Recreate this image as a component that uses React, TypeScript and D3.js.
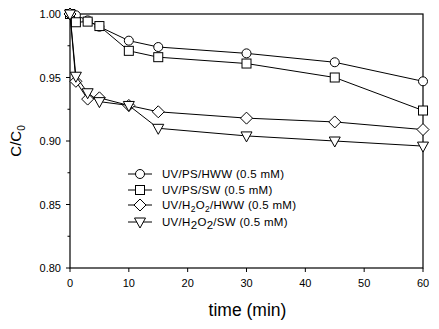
import React from "react";
import * as d3 from "d3";

const times = [0, 1, 3, 5, 10, 15, 30, 45, 60];
const psHWW = [1.0, 0.999, 0.995, 0.99, 0.979, 0.974, 0.969, 0.962, 0.947];
const psSW = [1.0, 0.9935, 0.994, 0.9905, 0.971, 0.966, 0.961, 0.95, 0.924];
const h2o2HWW = [1.0, 0.947, 0.933, 0.934, 0.928, 0.923, 0.918, 0.915, 0.909];
const h2o2SW = [1.0, 0.951, 0.938, 0.931, 0.928, 0.91, 0.904, 0.9, 0.896];
const xTicks = [0, 10, 20, 30, 40, 50, 60];
const yTicks = [0.8, 0.85, 0.9, 0.95, 1.0];
const yMinor = [0.825, 0.875, 0.925, 0.975];

type Sym = "circle" | "square" | "diamond" | "triangle";
const seriesList: { name: React.ReactNode; vals: number[]; sym: Sym }[] = [
  { name: "UV/PS/HWW (0.5 mM)", vals: psHWW, sym: "circle" },
  { name: "UV/PS/SW (0.5 mM)", vals: psSW, sym: "square" },
  {
    name: (
      <>
        UV/H<tspan dy={3} fontSize={8.5}>2</tspan>
        <tspan dy={-3}>O</tspan>
        <tspan dy={3} fontSize={8.5}>2</tspan>
        <tspan dy={-3}>/HWW (0.5 mM)</tspan>
      </>
    ),
    vals: h2o2HWW,
    sym: "diamond",
  },
  {
    name: (
      <>
        UV/H<tspan dy={2.5}>2</tspan>
        <tspan dy={-2.5}>O</tspan>
        <tspan dy={2.5}>2</tspan>
        <tspan dy={-2.5}>/SW (0.5 mM)</tspan>
      </>
    ),
    vals: h2o2SW,
    sym: "triangle",
  },
];

function Marker({ sym, x, y }: { sym: Sym; x: number; y: number }) {
  const common = { fill: "white", stroke: "black", strokeWidth: 1 };
  if (sym === "circle") return <circle cx={x} cy={y} r={4.5} {...common} />;
  if (sym === "square") return <rect x={x - 4.5} y={y - 4.5} width={9} height={9} {...common} />;
  if (sym === "diamond")
    return <path d={`M${x},${y - 6}L${x + 6},${y}L${x},${y + 6}L${x - 6},${y}Z`} {...common} />;
  return <path d={`M${x - 5.5},${y - 4}L${x + 5.5},${y - 4}L${x},${y + 6}Z`} {...common} />;
}

export default function App() {
  const W = 439, H = 329;
  const x = d3.scaleLinear().domain([0, 60]).range([70, 423]);
  const y = d3.scaleLinear().domain([0.8, 1.0]).range([268, 14]);
  const line = d3
    .line<[number, number]>()
    .x((d) => x(d[0]))
    .y((d) => y(d[1]));
  const font = "Arial, 'Liberation Sans', sans-serif";
  return (
    <svg width={W} height={H} style={{ position: "absolute", left: 0, top: 0, background: "white" }} fontFamily={font}>
      <rect x={x(0)} y={y(1)} width={x(60) - x(0)} height={y(0.8) - y(1)} fill="none" stroke="black" strokeWidth={1.2} />
      {xTicks.map((t) => (
        <g key={t}>
          <line x1={x(t)} x2={x(t)} y1={y(0.8)} y2={y(0.8) + 4} stroke="black" />
          <text x={x(t)} y={y(0.8) + 19} textAnchor="middle" fontSize={11}>
            {t}
          </text>
        </g>
      ))}
      {yTicks.map((t) => (
        <g key={t}>
          <line x1={x(0) - 4} x2={x(0)} y1={y(t)} y2={y(t)} stroke="black" />
          <text x={61} y={y(t) + 4} textAnchor="end" fontSize={11}>
            {t.toFixed(2)}
          </text>
        </g>
      ))}
      {yMinor.map((t) => (
        <line key={t} x1={x(0) - 2.5} x2={x(0)} y1={y(t)} y2={y(t)} stroke="black" />
      ))}
      {seriesList.map((s, i) => {
        const pts = times.map((t, j) => [t, s.vals[j]] as [number, number]);
        return (
          <g key={i}>
            <path d={line(pts) || ""} fill="none" stroke="black" strokeWidth={1} />
            {pts.map((p, j) => (
              <Marker key={j} sym={s.sym} x={x(p[0])} y={y(p[1])} />
            ))}
          </g>
        );
      })}
      {seriesList.map((s, i) => {
        const ly = [174, 190, 205, 222][i];
        return (
          <g key={"l" + i}>
            <line x1={128} x2={152} y1={ly} y2={ly} stroke="black" />
            <Marker sym={s.sym} x={140} y={ly} />
            <text x={162} y={ly + 4} fontSize={11.5} letterSpacing={0.3}>
              {s.name}
            </text>
          </g>
        );
      })}
      <text x={x(30) + 1} y={316} textAnchor="middle" fontSize={17.5}>
        time (min)
      </text>
      <text transform={`translate(21,${y(0.9)}) rotate(-90)`} textAnchor="middle" fontSize={15}>
        C/C<tspan dy={4} fontSize={10}>0</tspan>
      </text>
    </svg>
  );
}
